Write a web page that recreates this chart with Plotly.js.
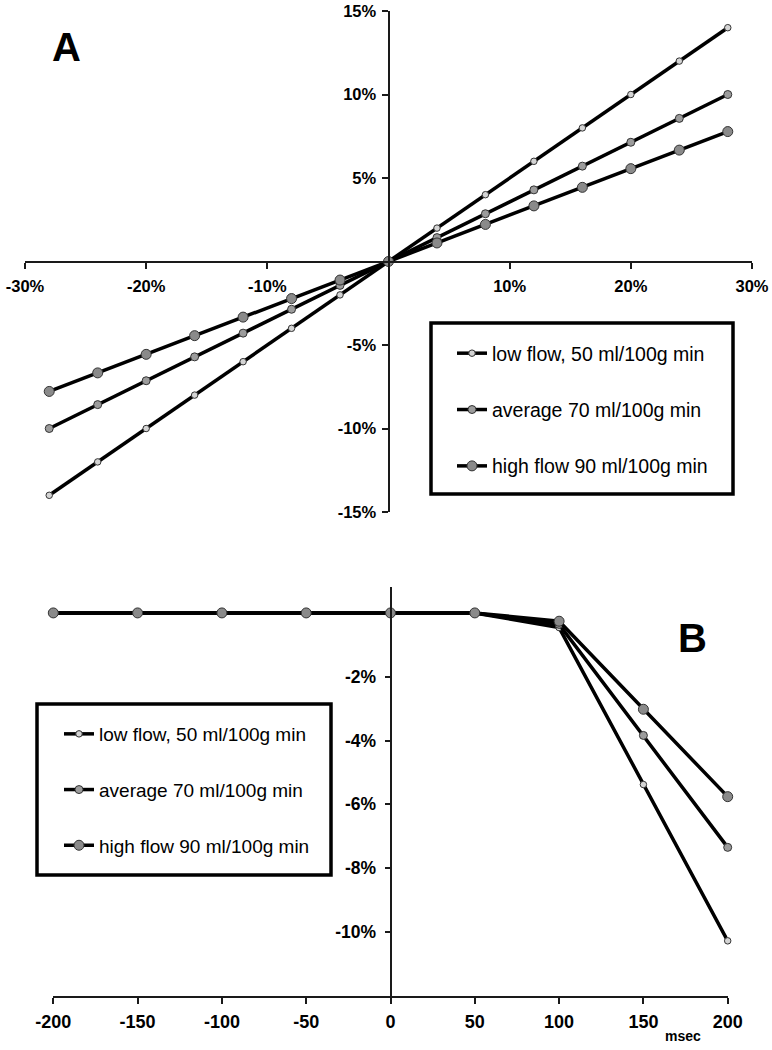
<!DOCTYPE html>
<html><head><meta charset="utf-8">
<script src="https://cdn.plot.ly/plotly-3.0.1.min.js"></script>
<style>html,body{margin:0;padding:0;background:#fff}#chart{width:772px;height:1050px}</style>
</head><body><div id="chart"></div>
<script>
// ---- data ----
const seriesNames = ['low flow, 50 ml/100g min', 'average 70 ml/100g min', 'high flow 90 ml/100g min'];
const xA = [-28, -24, -20, -16, -12, -8, -4, 0, 4, 8, 12, 16, 20, 24, 28];
const lowA = [-14, -12, -10, -8, -6, -4, -2, 0, 2, 4, 6, 8, 10, 12, 14];
const avgA = [-10, -8.57, -7.14, -5.71, -4.29, -2.86, -1.43, 0, 1.43, 2.86, 4.29, 5.71, 7.14, 8.57, 10];
const highA = [-7.78, -6.67, -5.56, -4.44, -3.33, -2.22, -1.11, 0, 1.11, 2.22, 3.33, 4.44, 5.56, 6.67, 7.78];
const xB = [-200, -150, -100, -50, 0, 50, 100, 150, 200];
const lowB = [0, 0, 0, 0, 0, 0, -0.46, -5.38, -10.28];
const avgB = [0, 0, 0, 0, 0, 0, -0.36, -3.84, -7.35];
const highB = [0, 0, 0, 0, 0, 0, -0.26, -3.02, -5.76];
const tickAx = [-30, -20, -10, 10, 20, 30];
const tickAy = [-15, -10, -5, 5, 10, 15];
const tickBx = [-200, -150, -100, -50, 0, 50, 100, 150, 200];
const tickBy = [-10, -8, -6, -4, -2];
const panelLabels = ['A', 'B'];
const xUnit = 'msec';

// ---- styles ----
const W = 772, H = 1050;
const px = v => v / W, py = v => 1 - v / H;
const mStyles = [
  {size: 6.5, color: '#d4d4d4'},
  {size: 8, color: '#9c9c9c'},
  {size: 10, color: '#8a8a8a'}
];
const FONT = 'Liberation Sans, Arial, sans-serif';
const axisCol = '#1a1a1a';
const pct = v => String(v) + '%';
const txt = v => String(v);

function mk(x, y, i, xa, ya, leg) {
  return {
    x: x, y: y, type: 'scatter', mode: 'lines+markers', name: seriesNames[i],
    xaxis: xa, yaxis: ya, legend: leg, legendgroup: leg + i, cliponaxis: false,
    line: {color: '#000', width: 3.5},
    marker: {size: mStyles[i].size, color: mStyles[i].color, line: {color: '#333', width: 1}}
  };
}
const data = [
  mk(xA, lowA, 0, 'x', 'y', 'legend'),
  mk(xA, avgA, 1, 'x', 'y', 'legend'),
  mk(xA, highA, 2, 'x', 'y', 'legend'),
  mk(xB, lowB, 0, 'x2', 'y2', 'legend2'),
  mk(xB, avgB, 1, 'x2', 'y2', 'legend2'),
  mk(xB, highB, 2, 'x2', 'y2', 'legend2')
];

const domAx = [px(25), px(752)], domAy = [py(512), py(11)];
const domBx = [px(53.3), px(727.7)], domBy = [py(995.7), py(587.4)];
const rAx = [-30, 30], rAy = [-15, 15], rBx = [-200, 200], rBy = [-12, 0.8];
const posAt = (dom, r, v) => dom[0] + (dom[1] - dom[0]) * (v - r[0]) / (r[1] - r[0]);

const common = {
  showgrid: false, zeroline: false, showline: true, linecolor: axisCol, linewidth: 2,
  ticks: 'outside', ticklen: 6, tickwidth: 2, tickcolor: axisCol, fixedrange: true, automargin: false,
  tickmode: 'array'
};
const tf = s => ({size: s, weight: 700, family: FONT, color: '#000'});
const layout = {
  width: W, height: H, margin: {l: 0, r: 0, t: 0, b: 0},
  paper_bgcolor: '#fff', plot_bgcolor: 'rgba(0,0,0,0)',
  font: {family: FONT, color: '#000'},
  xaxis: Object.assign({}, common, {domain: domAx, range: rAx, anchor: 'free',
    position: posAt(domAy, rAy, 0), tickvals: tickAx, ticktext: tickAx.map(pct),
    tickfont: tf(16.5), ticklabelstandoff: 4}),
  yaxis: Object.assign({}, common, {domain: domAy, range: rAy, anchor: 'free',
    position: posAt(domAx, rAx, 0), tickvals: tickAy, ticktext: tickAy.map(pct),
    tickfont: tf(16.5), ticklabelstandoff: 2}),
  xaxis2: Object.assign({}, common, {domain: domBx, range: rBx, anchor: 'y2',
    tickvals: tickBx, ticktext: tickBx.map(txt), tickfont: tf(18), ticklabelstandoff: 3}),
  yaxis2: Object.assign({}, common, {domain: domBy, range: rBy, anchor: 'free',
    position: posAt(domBx, rBx, 0), tickvals: tickBy, ticktext: tickBy.map(pct), ticklen: 5,
    tickfont: tf(17.5), ticklabelstandoff: 5}),
  legend: {x: px(452), y: py(334), xanchor: 'left', yanchor: 'top', borderwidth: 0,
    bgcolor: 'rgba(0,0,0,0)', font: {size: 19.5, family: FONT}, traceorder: 'grouped', tracegroupgap: 28},
  legend2: {x: px(59), y: py(715), xanchor: 'left', yanchor: 'top', borderwidth: 0,
    bgcolor: 'rgba(0,0,0,0)', font: {size: 19, family: FONT}, traceorder: 'grouped', tracegroupgap: 28},
  showlegend: true,
  shapes: [
    {type: 'rect', xref: 'paper', yref: 'paper', x0: px(431), x1: px(733), y0: py(494), y1: py(323),
      line: {color: '#000', width: 3.5}},
    {type: 'rect', xref: 'paper', yref: 'paper', x0: px(37), x1: px(331), y0: py(875), y1: py(704),
      line: {color: '#000', width: 3.5}}
  ],
  annotations: [
    {text: panelLabels[0], xref: 'paper', yref: 'paper', x: px(66), y: py(47), showarrow: false,
      xanchor: 'center', yanchor: 'middle', font: {size: 40, weight: 700, family: 'Liberation Sans Narrow, ' + FONT}},
    {text: panelLabels[1], xref: 'paper', yref: 'paper', x: px(692), y: py(638), showarrow: false,
      xanchor: 'center', yanchor: 'middle', font: {size: 40, weight: 700, family: 'Liberation Sans Narrow, ' + FONT}},
    {text: xUnit, xref: 'paper', yref: 'paper', x: px(683), y: py(1036), showarrow: false,
      xanchor: 'center', yanchor: 'middle', font: {size: 14, weight: 700, family: FONT}}
  ]
};
Plotly.newPlot('chart', data, layout, {staticPlot: true, displayModeBar: false});
</script></body></html>
